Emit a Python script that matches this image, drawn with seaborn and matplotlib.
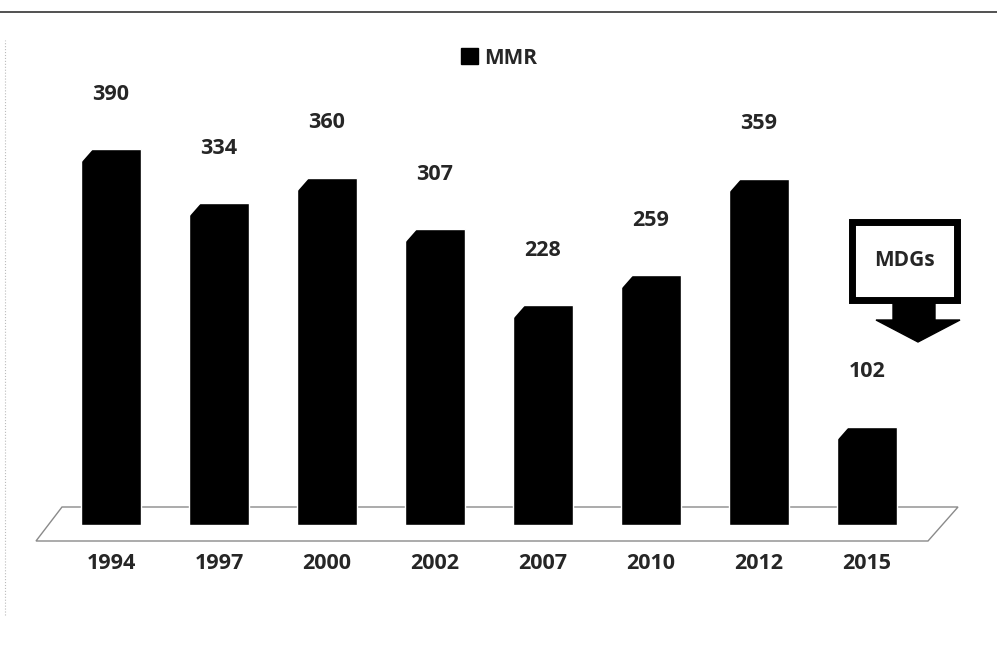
import matplotlib
matplotlib.use("Agg")
import matplotlib.pyplot as plt
from matplotlib.patches import Polygon, Patch, Rectangle
import seaborn as sns

# data
years = ["1994", "1997", "2000", "2002", "2007", "2010", "2012", "2015"]
mmr = [390, 334, 360, 307, 228, 259, 359, 102]

W, H = 997, 647

sns.set_style("white")
plt.rcParams["font.family"] = ["Open Sans", "DejaVu Sans"]


def px(x, y):
    # pixel position (from top-left) -> figure fraction
    return x / W, 1 - y / H


fig = plt.figure(figsize=(W / 100, H / 100), dpi=100)

# floor plane behind the bars
floor = Polygon(
    [px(62, 507), px(958, 507), px(928, 541), px(36, 541)],
    closed=True, facecolor="white", edgecolor="#8a8a8a", linewidth=1.0,
    transform=fig.transFigure, zorder=0,
)
fig.add_artist(floor)

ax = fig.add_axes([57 / W, (H - 525) / H, 864 / W, 482 / H])
ax.patch.set_alpha(0)
sns.barplot(x=years, y=mmr, color="black", width=0.56, saturation=1, ax=ax)
ax.set_ylim(0, 500)
ax.set_xlim(-0.5, 7.5)

# chamfered top-left corner on each bar, plus value labels
for patch, val in zip(ax.patches, mmr):
    x0 = patch.get_x()
    w = patch.get_width()
    h = patch.get_height()
    cut = Polygon([(x0 - 0.01, h + 1), (x0 + w * 0.22, h + 1), (x0 - 0.01, h - 16)],
                  closed=True, facecolor="white", edgecolor="none", zorder=5)
    ax.add_patch(cut)
    ax.annotate(str(val), (x0 + w / 2, h), xytext=(0, 55), textcoords="offset pixels",
                ha="center", va="center", fontsize=15.5, fontweight="bold")

sns.despine(ax=ax, left=True, bottom=True)
ax.set_yticks([])
ax.set_xlabel("")
ax.set_ylabel("")
ax.tick_params(axis="x", length=0, pad=20, labelsize=15.5)
for lab in ax.get_xticklabels():
    lab.set_fontweight("bold")

# legend
fig.legend(handles=[Patch(facecolor="black", edgecolor="black")], labels=["MMR"],
           loc="center", bbox_to_anchor=px(499, 58), frameon=False,
           handlelength=0.8, handleheight=0.8, handletextpad=0.3,
           prop={"weight": "bold", "size": 15})

# MDGs callout box with arrow
box = Rectangle(px(852, 300), 105 / W, 78 / H, transform=fig.transFigure,
                facecolor="white", edgecolor="black", linewidth=5, zorder=6)
fig.add_artist(box)
fig.text(*px(904, 261), "MDGs", ha="center", va="center", fontsize=15,
         fontweight="bold", zorder=7)
arrow = Polygon([px(893, 302), px(935, 302), px(935, 320), px(960, 320),
                 px(918, 342), px(876, 320), px(893, 320)],
                closed=True, facecolor="black", edgecolor="black",
                transform=fig.transFigure, zorder=6)
fig.add_artist(arrow)

# thin border line at the top of the scan
fig.add_artist(plt.Line2D([0, 1], [1 - 12 / H] * 2, color="#333333", linewidth=1.2,
                          transform=fig.transFigure))
fig.add_artist(plt.Line2D([5 / W] * 2, [0.05, 1 - 40 / H], color="#bbbbbb",
                          linewidth=0.8, linestyle=":", transform=fig.transFigure))

fig.savefig("out.png", dpi=100)
